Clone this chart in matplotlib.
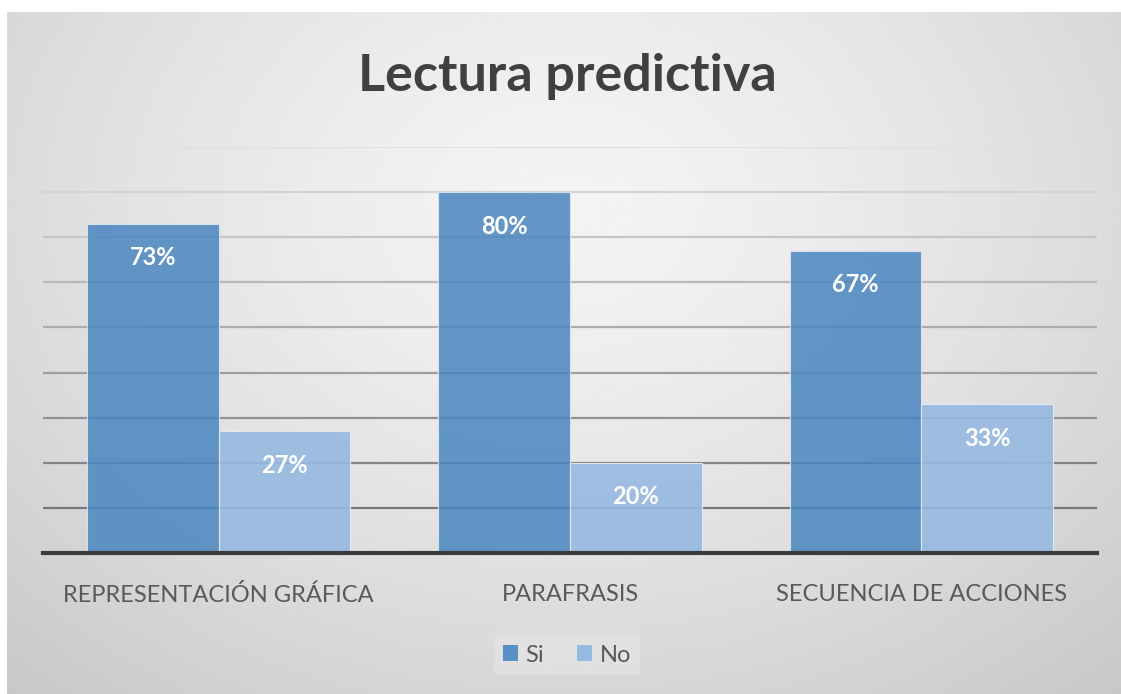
import numpy as np
import matplotlib.pyplot as plt
from matplotlib.patches import Patch

categories = ["REPRESENTACIÓN GRÁFICA", "PARAFRASIS", "SECUENCIA DE ACCIONES"]
si_values = [0.73, 0.80, 0.67]
no_values = [0.27, 0.20, 0.33]
series_names = ["Si", "No"]
grid_levels = [0.1, 0.2, 0.3, 0.4, 0.5, 0.6, 0.7, 0.8, 0.9]

W, H = 1121, 694
fig = plt.figure(figsize=(W / 100, H / 100), dpi=100)
fig.patch.set_facecolor("white")

# gradient background of the chart area
bg = fig.add_axes([7 / W, 0, 1 - 7 / W, (H - 12) / H])
yy, xx = np.mgrid[0:1:300j, 0:1:500j]
r = np.sqrt(((xx - 0.5) / 0.75) ** 2 + ((yy - 0.28) / 0.95) ** 2)
shade = 0.955 - 0.17 * np.clip(r, 0, 1) ** 1.4
bg.imshow(shade, cmap="gray", vmin=0, vmax=1, aspect="auto", extent=[0, 1, 1, 0])
bg.set_axis_off()

ax = fig.add_axes([43 / W, (H - 553) / H, (1097 - 43) / W, (553 - 147) / H])
ax.patch.set_alpha(0)

# gridlines fade out towards the top
for lv in grid_levels:
    t = (lv - 0.1) / 0.8
    g = 0.47 + t * (0.88 - 0.47)
    ax.axhline(lv, color=(g, g, g), linewidth=1.6, zorder=1)

x = np.arange(len(categories))
w = 0.375
b1 = ax.bar(x - w / 2, si_values, w, color="#4a86c0", alpha=0.85,
            edgecolor="#dce8f4", linewidth=0.8, zorder=3, label=series_names[0])
b2 = ax.bar(x + w / 2, no_values, w, color="#96b9e0", alpha=0.9,
            edgecolor="#e4edf7", linewidth=0.8, zorder=3, label=series_names[1])

for bars, vals in [(b1, si_values), (b2, no_values)]:
    for rect, v in zip(bars, vals):
        ax.annotate(f"{round(v * 100)}%", (rect.get_x() + rect.get_width() / 2, v),
                    xytext=(0, -34), textcoords="offset pixels",
                    ha="center", va="center", color="white", fontsize=17,
                    fontweight="bold", family="Lato", zorder=5)

ax.set_xlim(-0.5, 2.5)
ax.set_ylim(0, 0.9)
ax.set_yticks([])
ax.tick_params(axis="x", bottom=False, pad=19)
ax.set_xticks(x)
ax.set_xticklabels(categories, fontsize=17, color="#595959", family="Lato")
for s in ["top", "right", "left"]:
    ax.spines[s].set_visible(False)
ax.spines["bottom"].set_color("#3a3a3a")
ax.spines["bottom"].set_linewidth(3)
ax.spines["bottom"].set_zorder(4)

fig.text(567 / W, 1 - 77 / H, "Lectura predictiva", ha="center", va="center",
         fontsize=37.5, fontweight="bold", color="#404040", family="Lato")

handles = [Patch(facecolor="#4a86c0", alpha=0.9), Patch(facecolor="#96b9e0")]
leg = fig.legend(handles, series_names, loc="center", bbox_to_anchor=(567 / W, 1 - 655 / H),
                 ncol=2, frameon=True, fontsize=17, handlelength=0.65, handleheight=0.65,
                 handletextpad=0.3, columnspacing=1.4, borderpad=0.4)
leg.get_frame().set_facecolor("#e6e6e6")
leg.get_frame().set_edgecolor("none")
leg.get_frame().set_alpha(0.6)
for t in leg.get_texts():
    t.set_color("#595959")
    t.set_family("Lato")

fig.savefig("out.png", dpi=100)
